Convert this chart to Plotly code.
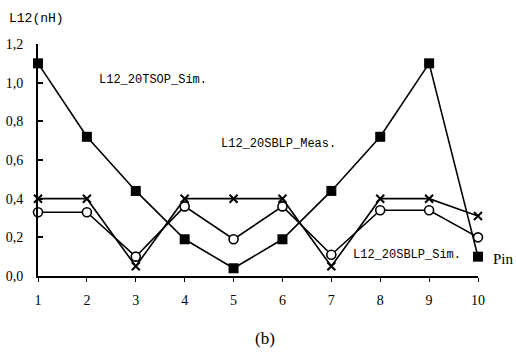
import plotly.graph_objects as go

pins = [1, 2, 3, 4, 5, 6, 7, 8, 9, 10]
tsop_sim = [1.10, 0.72, 0.44, 0.19, 0.04, 0.19, 0.44, 0.72, 1.10, 0.10]
sblp_meas = [0.40, 0.40, 0.05, 0.40, 0.40, 0.40, 0.05, 0.40, 0.40, 0.31]
sblp_sim = [0.33, 0.33, 0.10, 0.36, 0.19, 0.36, 0.11, 0.34, 0.34, 0.20]
y_ticks = [0.0, 0.2, 0.4, 0.6, 0.8, 1.0, 1.2]
y_tick_text = ["0,0", "0,2", "0,4", "0,6", "0,8", "1,0", "1,2"]

fig = go.Figure()
fig.add_trace(go.Scatter(x=pins, y=tsop_sim, mode="lines+markers", cliponaxis=False,
                         line=dict(color="black", width=1.6),
                         marker=dict(symbol="square", size=10, color="black")))
fig.add_trace(go.Scatter(x=pins, y=sblp_meas, mode="lines+markers", cliponaxis=False,
                         line=dict(color="black", width=1.6),
                         marker=dict(symbol="x-thin", size=8, color="black",
                                     line=dict(color="black", width=2))))
fig.add_trace(go.Scatter(x=pins, y=sblp_sim, mode="lines+markers", cliponaxis=False,
                         line=dict(color="black", width=1.6),
                         marker=dict(symbol="circle", size=9, color="white",
                                     line=dict(color="black", width=1.6))))

mono = "Liberation Mono"
serif = "Liberation Serif"
fig.update_layout(
    width=516, height=359, showlegend=False,
    margin=dict(l=38, r=38, t=44, b=83),
    paper_bgcolor="white", plot_bgcolor="white",
    xaxis=dict(range=[1, 10], tickvals=pins, showgrid=False, zeroline=False,
               showline=True, linecolor="black", linewidth=2, automargin=False,
               ticks="outside", ticklen=4, tickcolor="black",
               tickfont=dict(family=serif, size=14, color="black"),
               ticklabelstandoff=6),
    yaxis=dict(range=[0, 1.2], tickvals=y_ticks, ticktext=y_tick_text,
               showgrid=False, zeroline=False, automargin=False,
               showline=True, linecolor="black", linewidth=2,
               ticks="inside", ticklen=5, tickcolor="black", tickwidth=2,
               tickfont=dict(family=serif, size=14, color="black"),
               ticklabelstandoff=10),
    annotations=[
        dict(text="L12(nH)", xref="paper", yref="paper", x=-0.07, y=1.07,
             xanchor="left", yanchor="bottom", showarrow=False,
             font=dict(family=mono, size=13, color="black")),
        dict(text="L12_20TSOP_Sim.", xref="x", yref="y", x=2.2, y=1.015,
             xanchor="left", yanchor="middle", showarrow=False,
             font=dict(family=mono, size=12, color="black")),
        dict(text="L12_20SBLP_Meas.", xref="x", yref="y", x=4.7, y=0.685,
             xanchor="left", yanchor="middle", showarrow=False,
             font=dict(family=mono, size=12, color="black")),
        dict(text="L12_20SBLP_Sim.", xref="x", yref="y", x=7.4, y=0.11,
             xanchor="left", yanchor="middle", showarrow=False,
             font=dict(family=mono, size=12, color="black")),
        dict(text="Pin", xref="paper", yref="y", x=1.03, y=0.09,
             xanchor="left", yanchor="middle", showarrow=False,
             font=dict(family=serif, size=15, color="black")),
        dict(text="(b)", xref="paper", yref="paper", x=0.515, y=-0.27,
             xanchor="center", yanchor="middle", showarrow=False,
             font=dict(family=serif, size=17, color="black")),
    ],
)

fig.write_html("out.html")
